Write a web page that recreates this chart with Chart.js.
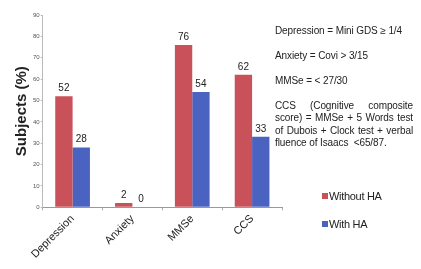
<!DOCTYPE html>
<html>
<head>
<meta charset="utf-8">
<script src="https://cdn.jsdelivr.net/npm/chart.js@4.4.0/dist/chart.umd.min.js"></script>
<style>
  html, body { margin: 0; padding: 0; background: #fff; }
  #wrap { position: relative; width: 421px; height: 269px; font-family: "Liberation Sans", Arial, sans-serif; }
  #chart { position: absolute; left: 0; top: 0; }
  .note { position: absolute; left: 275px; width: 138px; font-size: 10px; color: #222; line-height: 12.3px; letter-spacing: -0.1px; }
  .just { text-align: justify; }
  .leg { position: absolute; left: 322px; font-size: 11px; color: #222; letter-spacing: -0.3px; }
  .leg span { display: inline-block; width: 6px; height: 6px; margin-right: 1px; vertical-align: 1px; }
</style>
</head>
<body>
<div id="wrap">
  <canvas id="chart" width="421" height="269"></canvas>
  <div class="note" style="top:25px">Depression = Mini GDS ≥ 1/4</div>
  <div class="note" style="top:50px">Anxiety = Covi &gt; 3/15</div>
  <div class="note" style="top:75px">MMSe = &lt; 27/30</div>
  <div class="note just" style="top:100px">CCS (Cognitive composite score) = MMSe + 5 Words test of Dubois + Clock test + verbal fluence of Isaacs &nbsp;&lt;65/87.</div>
  <div class="leg" style="top:190px"><span style="background:#c9515a"></span>Without HA</div>
  <div class="leg" style="top:218px"><span style="background:#4a62c0"></span>With HA</div>
</div>
<script>
var categories = ['Depression', 'Anxiety', 'MMSe', 'CCS'];
var withoutHA = [52, 2, 76, 62];
var withHA = [28, 0, 54, 33];
var seriesNames = ['Without HA', 'With HA'];

// values printed above each bar
var valueLabels = {
    id: 'valueLabels',
    afterDatasetsDraw: function (chart) {
        var ctx = chart.ctx;
        ctx.save();
        ctx.font = '10px "Liberation Sans", Arial, sans-serif';
        ctx.fillStyle = '#222';
        ctx.textAlign = 'center';
        ctx.textBaseline = 'bottom';
        chart.data.datasets.forEach(function (ds, i) {
            chart.getDatasetMeta(i).data.forEach(function (bar, j) {
                ctx.fillText(ds.data[j], bar.x, bar.y - 3);
            });
        });
        ctx.restore();
    }
};

var ctx = document.getElementById('chart').getContext('2d');
new Chart(ctx, {
    type: 'bar',
    data: {
        labels: categories,
        datasets: [
            { label: seriesNames[0], data: withoutHA, backgroundColor: '#c9515a' },
            { label: seriesNames[1], data: withHA, backgroundColor: '#4a62c0' }
        ]
    },
    plugins: [valueLabels],
    options: {
        responsive: false,
        animation: false,
        layout: { padding: { left: 13, right: 139, top: 15, bottom: 6 } },
        plugins: {
            legend: { display: false },
            tooltip: { enabled: false }
        },
        datasets: { bar: { categoryPercentage: 0.58, barPercentage: 1 } },
        scales: {
            x: {
                grid: { display: true, drawOnChartArea: false, drawTicks: true, tickLength: 3, color: '#aaa' },
                border: { color: '#999' },
                ticks: {
                    maxRotation: 45, minRotation: 45,
                    color: '#222',
                    padding: 2,
                    font: { family: '"Liberation Sans", Arial, sans-serif', size: 11 }
                }
            },
            y: {
                min: 0, max: 90,
                grid: { display: true, drawOnChartArea: false, drawTicks: true, tickLength: 2, color: '#bbb' },
                border: { color: '#bbb' },
                ticks: {
                    stepSize: 10,
                    color: '#555',
                    padding: 1,
                    font: { family: '"Liberation Sans", Arial, sans-serif', size: 6 }
                },
                title: {
                    display: true,
                    text: 'Subjects (%)',
                    color: '#222',
                    padding: { top: 0, bottom: 1 },
                    font: { family: '"Liberation Sans", Arial, sans-serif', size: 15, weight: 'bold' }
                }
            }
        }
    }
});
</script>
</body>
</html>
